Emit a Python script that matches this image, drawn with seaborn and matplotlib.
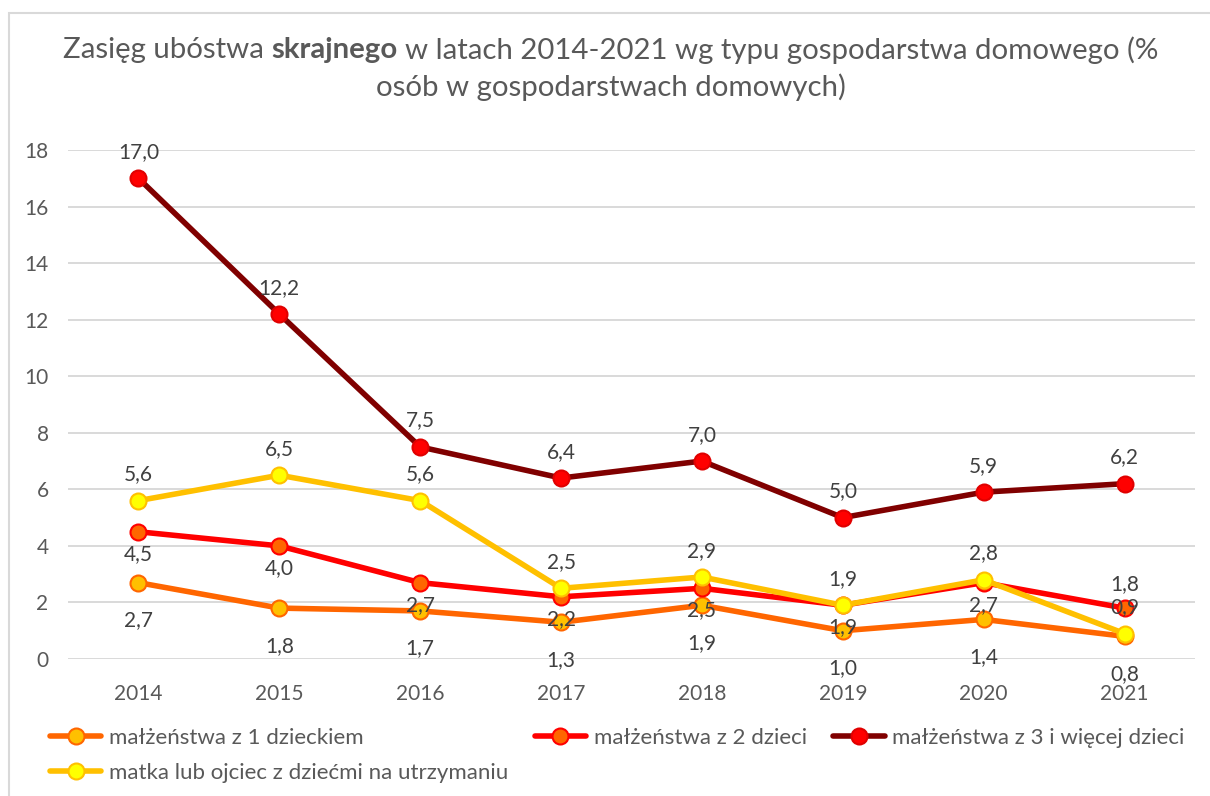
import matplotlib
matplotlib.use("Agg")
import matplotlib.pyplot as plt
from matplotlib.patches import Rectangle
import seaborn as sns
import pandas as pd

years = [2014, 2015, 2016, 2017, 2018, 2019, 2020, 2021]
series_names = [
    "małżeństwa z 1 dzieckiem",
    "małżeństwa z 2 dzieci",
    "małżeństwa z 3 i więcej dzieci",
    "matka lub ojciec z dziećmi na utrzymaniu",
]
one_child = [2.7, 1.8, 1.7, 1.3, 1.9, 1.0, 1.4, 0.8]
two_children = [4.5, 4.0, 2.7, 2.2, 2.5, 1.9, 2.7, 1.8]
three_plus = [17.0, 12.2, 7.5, 6.4, 7.0, 5.0, 5.9, 6.2]
single_parent = [5.6, 6.5, 5.6, 2.5, 2.9, 1.9, 2.8, 0.9]
y_ticks = [0, 2, 4, 6, 8, 10, 12, 14, 16, 18]

# line colour, marker face, marker edge, label offset (pt)
styles = {
    series_names[0]: ("#FF6600", "#FFC000", "#FF6600", -27),
    series_names[1]: ("#FF0000", "#FF6600", "#FF0000", -16),
    series_names[2]: ("#800000", "#FF0000", "#E00000", 19),
    series_names[3]: ("#FFC000", "#FFFF00", "#FFC000", 19),
}

df = pd.DataFrame({
    "rok": years * 4,
    "wartosc": one_child + two_children + three_plus + single_parent,
    "typ": [n for n in series_names for _ in years],
})

sns.set_style("white")
plt.rcParams["font.family"] = ["Lato", "DejaVu Sans"]
TXT = "#595959"
LBL = "#404040"

fig = plt.figure(figsize=(12.1, 7.96), dpi=100)
ax = fig.add_axes([68 / 1210, 1 - 659 / 796, (1195 - 68) / 1210, (659 - 150) / 796])

for name in series_names:
    line_c, face_c, edge_c, dy = styles[name]
    sub = df[df["typ"] == name]
    sns.lineplot(data=sub, x="rok", y="wartosc", ax=ax, color=line_c, lw=4,
                 marker="o", markersize=11.5, markerfacecolor=face_c,
                 markeredgecolor=edge_c, markeredgewidth=1.5, label=name)
    for i, (x, v) in enumerate(zip(sub["rok"], sub["wartosc"])):
        off = dy
        if name == series_names[1] and i == len(years) - 1:
            off = 17
        ax.annotate(f"{v:.1f}".replace(".", ","), (x, v), textcoords="offset points",
                    xytext=(0, off), ha="center", va="center", fontsize=15, color=LBL)

ax.set_xlim(2013.5, 2021.5)
ax.set_ylim(0, 18)
ax.set_yticks(y_ticks)
ax.set_xticks(years)
ax.set_xticklabels([str(y) for y in years])
ax.set_xlabel("")
ax.set_ylabel("")
ax.tick_params(axis="both", length=0, labelsize=15, labelcolor=TXT)
ax.tick_params(axis="y", pad=14)
ax.tick_params(axis="x", pad=18)
ax.yaxis.grid(True, color="#D9D9D9", lw=1.4)
ax.xaxis.grid(False)
ax.set_axisbelow(True)
for sp in ax.spines.values():
    sp.set_visible(False)

handles, labels = ax.get_legend_handles_labels()
ax.get_legend().remove()
order = [0, 3, 1, 2]
fig.legend([handles[i] for i in order], [labels[i] for i in order], ncol=3,
           loc="upper left", bbox_to_anchor=(50 / 1210, 1 - 728 / 796),
           frameon=False, fontsize=16, labelcolor=TXT, handlelength=2.3,
           handletextpad=0.35, columnspacing=1.2, labelspacing=0.68,
           borderpad=0, borderaxespad=0)

# chart frame
fig.patches.append(Rectangle((9 / 1210, -0.01), 1.02, 1 - 13 / 796 + 0.01,
                             transform=fig.transFigure, fill=False,
                             edgecolor="#D9D9D9", lw=1.5, zorder=0))

# title with bold word
r = fig.canvas.get_renderer()
size = 21.2
parts = [("Zasięg ubóstwa", "normal"), ("skrajnego", "bold"),
         ("w latach 2014-2021 wg typu gospodarstwa domowego (%", "normal")]
ty = 1 - 50 / 796
texts = [fig.text(0, ty, s, fontsize=size, fontweight=w, color=TXT, va="center")
         for s, w in parts]
widths = [t.get_window_extent(r).width for t in texts]
a = fig.text(0, 0, "x x", fontsize=size)
b = fig.text(0, 0, "xx", fontsize=size)
gap = a.get_window_extent(r).width - b.get_window_extent(r).width
a.remove()
b.remove()
total = sum(widths) + gap * (len(parts) - 1)
x = 611 - total / 2
for t, w in zip(texts, widths):
    t.set_x(x / 1210)
    x += w + gap
fig.text(611 / 1210, 1 - 87 / 796, "osób w gospodarstwach domowych)", fontsize=size,
         color=TXT, ha="center", va="center")

fig.savefig("out.png", dpi=100)
